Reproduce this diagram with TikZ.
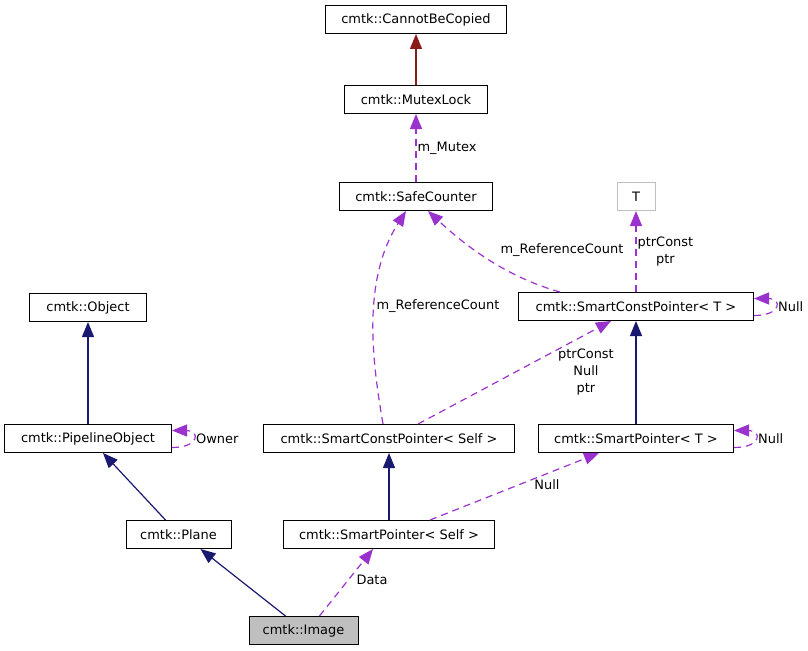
\documentclass[tikz,border=0pt]{standalone}
\usepackage{fontspec}
\setmainfont{DejaVu Sans}
\usetikzlibrary{calc}
\usetikzlibrary{arrows.meta}

\definecolor{inhblue}{RGB}{25,25,112}
\definecolor{usepurple}{RGB}{154,50,205}
\definecolor{tplred}{RGB}{139,26,26}
\definecolor{boxgray}{RGB}{191,191,191}

\tikzset{
  cls/.style={draw=black, line width=1bp, fill=white, inner sep=0pt,
    minimum height=28bp, font=\fontsize{13}{17}\selectfont},
  lbl/.style={inner sep=1bp, align=center, font=\fontsize{13}{17}\selectfont},
  tip/.style={-{Triangle[length=15bp,width=12bp]}},
  inh/.style={draw=inhblue, line width=1.2bp, tip},
  tpl/.style={draw=tplred, line width=1.2bp, tip},
  use/.style={draw=usepurple, line width=1.2bp, dash pattern=on 7bp off 5bp, tip},
}

\begin{document}
\begin{tikzpicture}[x=1bp, y=-1bp]
\useasboundingbox (0,0) rectangle (808,651);
% classes
\node[cls, minimum width=181bp] (cannot) at (416,19.5) {cmtk::CannotBeCopied};
\node[cls, minimum width=143bp] (mutex) at (416,99.5) {cmtk::MutexLock};
\node[cls, minimum width=153bp] (safe) at (416,196.5) {cmtk::SafeCounter};
\node[cls, draw=boxgray, minimum width=38bp] (tparam) at (636,196.5) {T};
\node[cls, minimum width=235bp] (scpT) at (636,306.5) {cmtk::SmartConstPointer< T >};
\node[cls, minimum width=117bp] (object) at (88,307.5) {cmtk::Object};
\node[cls, minimum width=167bp] (pipe) at (88,438.5) {cmtk::PipelineObject};
\node[cls, minimum width=251bp] (scpS) at (389,438.5) {cmtk::SmartConstPointer< Self >};
\node[cls, minimum width=195bp] (spT) at (636,438.5) {cmtk::SmartPointer< T >};
\node[cls, minimum width=105bp] (plane) at (178.5,534.5) {cmtk::Plane};
\node[cls, minimum width=211bp] (spS) at (389,534.5) {cmtk::SmartPointer< Self >};
\node[cls, fill=boxgray, minimum width=109bp] (image) at (303.5,630.5) {cmtk::Image};

% inheritance
\draw[tpl] (mutex) -- (cannot);
\draw[inh] (pipe) -- (object);
\draw[inh] (spT) -- (scpT);
\draw[inh] (spS) -- (scpS);
\draw[inh] ($(plane.north)+(-13,0)$) -- ($(pipe.south)+(15,0)$);
\draw[inh] ($(image.north)+(-18,0)$) -- ($(plane.south)+(22,0)$);

% usage
\draw[use] (safe) -- (mutex) node[lbl, midway, right] (lmutex) {m\_Mutex};
\draw[use] (scpT.north -| tparam) -- (tparam)
  node[lbl, midway, right] (lptr) {ptrConst\\ptr};
\draw[use] ($(scpT.north)+(-76,0)$) .. controls (510,278) and (470,250) .. ($(safe.south)+(12,0)$);
\node[lbl] (lrcT) at (562,250) {m\_ReferenceCount};
\draw[use] ($(scpS.north)+(-6,0)$) .. controls (372,360) and (362,280) .. ($(safe.south)+(-10,0)$);
\node[lbl] (lrcS) at (438,306) {m\_ReferenceCount};
\draw[use] ($(scpS.north)+(29,0)$) -- ($(scpT.south)+(-25,0)$);
\node[lbl] (lconst) at (586,372) {ptrConst\\Null\\ptr};
\draw[use] ($(spS.north)+(41,0)$) -- ($(spT.south)+(-37,0)$);
\node[lbl] (lnullS) at (547,485) {Null};
\draw[use] ($(image.north)+(16,0)$) -- ($(spS.south)+(-16,0)$);
\node[lbl] (ldata) at (372,580) {Data};

% self references
\foreach \c/\t/\n in {scpT/Null/lnullT, spT/Null/lnullP, pipe/Owner/lowner} {
  \draw[use] ($(\c.east)+(0,9)$) .. controls +(28,0) and +(28,0) .. ($(\c.east)+(0,-8)$);
  \node[lbl, right] (\n) at ($(\c.east)+(23,0)$) {\t};
}
\end{tikzpicture}
\end{document}
